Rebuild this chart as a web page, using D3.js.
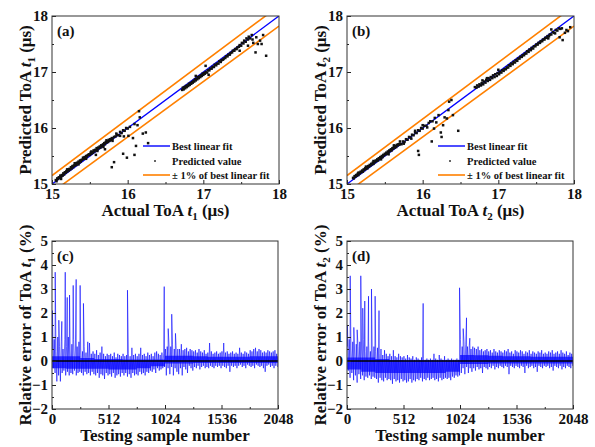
<!DOCTYPE html>
<meta charset="utf-8">
<style>
body { margin: 0; background: #fff; }
svg text { font-family: "Liberation Serif", "Times New Roman", serif; font-weight: bold; fill: #111; }
</style>
<svg width="595" height="447"></svg>
<script src="https://d3js.org/d3.v7.min.js"></script>
<script>

// (a) actual vs predicted ToA t1, pairs [actual, predicted] in µs
var scatterT1 = [
  [15.05,15.07],[15.06,15.05],[15.07,15.10],[15.08,15.09],[15.09,15.12],[15.10,15.11],[15.11,15.15],[15.12,15.13],
  [15.13,15.16],[15.14,15.15],[15.15,15.19],[15.16,15.17],[15.17,15.21],[15.18,15.20],[15.19,15.23],[15.20,15.22],
  [15.21,15.26],[15.22,15.24],[15.23,15.27],[15.24,15.26],[15.25,15.30],[15.26,15.28],[15.27,15.32],[15.28,15.30],
  [15.29,15.33],[15.30,15.33],[15.31,15.36],[15.32,15.34],[15.33,15.38],[15.34,15.37],[15.35,15.40],[15.36,15.38],
  [15.37,15.42],[15.38,15.40],[15.39,15.43],[15.40,15.43],[15.41,15.47],[15.42,15.45],[15.43,15.48],[15.44,15.46],
  [15.45,15.50],[15.46,15.49],[15.47,15.51],[15.48,15.52],[15.49,15.53],[15.50,15.52],[15.51,15.56],[15.52,15.54],
  [15.53,15.57],[15.54,15.56],[15.55,15.60],[15.56,15.58],[15.57,15.61],[15.58,15.60],[15.59,15.64],[15.60,15.62],
  [15.61,15.65],[15.62,15.64],[15.63,15.67],[15.64,15.65],[15.65,15.69],[15.66,15.68],[15.67,15.70],[15.68,15.71],
  [15.69,15.73],[15.70,15.71],[15.71,15.75],[15.72,15.74],[15.73,15.76],[15.74,15.75],[15.75,15.79],[15.76,15.77],
  [15.77,15.80],[15.78,15.79],[15.79,15.82],[15.80,15.81],[15.82,15.84],[15.84,15.85],[15.86,15.88],[15.88,15.87],
  [15.90,15.93],[15.92,15.91],[15.94,15.96],[15.96,15.95],[15.98,16.00],[16.00,15.99],[16.03,16.02],
  [15.12,15.09],[15.20,15.26],[15.30,15.37],[15.35,15.35],[15.45,15.45],[15.52,15.58],[15.60,15.59],[15.68,15.66],
  [15.72,15.78],[15.80,15.77],[15.85,15.90],[15.90,15.86],[15.70,15.62],[15.58,15.52],
  [15.79,15.30],[15.82,15.39],[15.94,15.54],[15.99,15.47],[16.09,15.52],[15.95,15.85],[16.07,15.82],[16.09,16.07],
  [16.13,16.05],[16.16,16.19],[16.15,16.30],[16.20,15.90],[16.24,15.92],[16.27,15.73],[16.11,15.68],[16.01,15.86],
  [16.72,16.68],[16.73,16.72],[16.74,16.69],[16.75,16.73],[16.76,16.71],[16.77,16.75],[16.78,16.73],[16.79,16.76],
  [16.80,16.75],[16.81,16.79],[16.82,16.77],[16.83,16.80],[16.84,16.79],[16.85,16.82],[16.86,16.81],[16.87,16.84],
  [16.88,16.83],[16.89,16.87],[16.90,16.85],[16.91,16.88],[16.92,16.87],[16.93,16.91],[16.94,16.89],[16.95,16.92],
  [16.96,16.91],[16.97,16.94],[16.98,16.93],[16.99,16.97],[17.00,16.95],[17.01,16.98],[17.02,16.97],[17.03,17.00],
  [17.05,16.99],[17.06,17.03],[17.08,17.03],[17.09,17.06],[17.11,17.06],[17.12,17.09],[17.14,17.09],[17.15,17.13],
  [17.17,17.12],[17.18,17.15],[17.20,17.15],[17.21,17.19],[17.23,17.18],[17.24,17.21],[17.26,17.22],[17.27,17.24],
  [17.29,17.25],[17.30,17.28],[17.32,17.28],[17.33,17.31],[17.35,17.31],[17.36,17.34],[17.38,17.35],[17.39,17.38],
  [17.41,17.38],[17.42,17.41],[17.44,17.41],[17.45,17.44],[17.47,17.45],[17.48,17.48],[17.50,17.47],[17.51,17.52],
  [17.53,17.51],[17.54,17.56],[17.56,17.54],[17.57,17.60],[17.59,17.58],[17.60,17.63],[17.62,17.60],[17.64,17.66],
  [17.69,17.35],[17.83,17.29],[17.72,17.50],[17.75,17.56],[17.03,17.11],[17.07,16.95],[17.59,17.47],[17.48,17.38],
  [17.79,17.66],[17.66,17.52],[17.70,17.62],[17.77,17.50],[16.90,16.93],[17.65,17.58]
];

// (b) actual vs predicted ToA t2
var scatterT2 = [
  [15.08,15.11],[15.09,15.10],[15.10,15.14],[15.11,15.13],[15.12,15.16],[15.13,15.15],[15.14,15.18],[15.15,15.16],
  [15.16,15.20],[15.17,15.19],[15.18,15.22],[15.19,15.21],[15.20,15.24],[15.21,15.22],[15.22,15.26],[15.23,15.25],
  [15.24,15.28],[15.25,15.27],[15.26,15.30],[15.27,15.28],[15.28,15.32],[15.29,15.31],[15.30,15.34],[15.31,15.33],
  [15.32,15.36],[15.33,15.35],[15.34,15.38],[15.35,15.36],[15.36,15.40],[15.37,15.39],[15.38,15.42],[15.39,15.41],
  [15.40,15.44],[15.41,15.42],[15.42,15.46],[15.43,15.45],[15.44,15.48],[15.45,15.47],[15.46,15.50],[15.47,15.48],
  [15.48,15.52],[15.49,15.51],[15.50,15.54],[15.51,15.53],[15.52,15.56],[15.53,15.54],[15.54,15.58],[15.55,15.57],
  [15.56,15.60],[15.57,15.59],[15.58,15.62],[15.59,15.60],[15.60,15.64],[15.61,15.63],[15.62,15.66],[15.63,15.65],
  [15.64,15.68],[15.65,15.66],[15.66,15.70],[15.67,15.69],[15.68,15.71],[15.69,15.70],[15.70,15.72],[15.72,15.71],
  [15.74,15.76],[15.76,15.75],[15.78,15.80],[15.80,15.79],[15.82,15.84],[15.84,15.83],[15.86,15.88],[15.88,15.87],
  [15.90,15.92],[15.92,15.91],[15.94,15.96],[15.96,15.95],[15.98,16.00],[16.00,15.99],[16.02,16.04],[16.05,16.04],
  [16.08,16.09],[16.10,16.12],[16.13,16.12],[16.16,16.18],
  [15.15,15.20],[15.25,15.31],[15.35,15.41],[15.45,15.44],[15.55,15.53],[15.62,15.69],[15.70,15.76],[15.75,15.72],
  [15.85,15.81],[15.90,15.95],[16.00,16.05],[16.06,16.01],
  [15.94,15.59],[15.95,15.52],[16.12,15.76],[16.24,15.92],[16.25,15.84],[16.27,16.05],[16.34,16.32],[16.35,16.47],
  [16.40,16.23],[16.47,15.95],[16.38,16.50],[16.32,16.17],[16.21,16.23],[16.18,16.10],[16.29,16.19],[16.15,15.99],
  [16.69,16.73],[16.71,16.72],[16.72,16.76],[16.74,16.74],[16.75,16.78],[16.77,16.76],[16.78,16.80],[16.80,16.78],
  [16.81,16.83],[16.83,16.81],[16.84,16.86],[16.86,16.84],[16.87,16.89],[16.89,16.86],[16.90,16.91],[16.92,16.89],
  [16.93,16.94],[16.95,16.91],[16.96,16.96],[16.98,16.93],[16.99,16.98],[17.01,16.96],[17.02,17.00],[17.04,16.99],
  [17.05,17.03],[17.07,17.02],[17.08,17.05],[17.10,17.05],[17.11,17.08],[17.13,17.08],[17.14,17.12],[17.16,17.11],
  [17.17,17.15],[17.19,17.14],[17.20,17.18],[17.22,17.17],[17.23,17.21],[17.25,17.20],[17.26,17.24],[17.28,17.24],
  [17.29,17.27],[17.31,17.27],[17.32,17.30],[17.34,17.30],[17.35,17.33],[17.37,17.33],[17.38,17.37],[17.40,17.36],
  [17.41,17.40],[17.43,17.39],[17.44,17.43],[17.46,17.42],[17.47,17.46],[17.49,17.46],[17.50,17.49],[17.52,17.49],
  [17.53,17.52],[17.55,17.52],[17.56,17.55],[17.58,17.55],[17.59,17.58],[17.61,17.58],[17.62,17.61],[17.64,17.61],
  [17.65,17.64],[17.67,17.64],[17.68,17.67],[17.70,17.67],[17.72,17.71],[17.74,17.70],[17.76,17.75],[17.78,17.74],
  [17.80,17.78],[17.82,17.77],[17.84,17.78],
  [17.85,17.57],[17.75,17.69],[17.90,17.75],[17.66,17.60],[16.85,16.89],[17.95,17.80],[17.88,17.70],[17.81,17.62],
  [16.79,16.85],[17.00,17.04],[17.70,17.76],[17.92,17.73]
];

// (c)/(d) relative error (%): envelope per block of 16 samples, plus isolated spikes
var errHi1 = [
  0.5,0.9,0.4,1.0,0.6,0.8,0.5,0.9, 0.6,1.0,0.5,0.7,0.9,0.5,0.6,0.8,
  0.5,0.4,0.6,0.35,0.8,0.75,0.3,0.4, 0.3,0.45,0.25,0.35,0.6,0.3,0.2,0.3,
  0.25,0.3,0.2,0.35,0.15,0.3,0.25,0.2, 0.3,0.2,0.25,0.3,0.2,0.55,0.25,0.3,
  0.2,0.3,0.55,0.25,0.3,0.2,0.35,0.25, 0.3,0.2,0.35,0.4,0.3,0.25,0.35,0.3,
  0.5,0.6,0.7,0.6,0.7,0.5,0.65,0.5, 0.5,0.7,0.45,0.5,0.55,0.4,0.5,0.45,
  0.4,0.45,0.35,0.5,0.4,0.35,0.45,0.3, 0.35,0.75,0.4,0.3,0.35,0.4,0.3,0.35,
  0.4,0.75,0.35,0.4,0.3,0.35,0.4,0.3, 0.35,0.3,0.55,0.35,0.3,0.4,0.35,0.3,
  0.45,0.4,0.5,0.55,0.4,0.5,0.45,0.35, 0.4,0.35,0.45,0.4,0.35,0.4,0.45,0.3
];
var errLo1 = [
  -0.3,-0.5,-0.85,-0.6,-0.85,-0.5,-0.4,-0.6, -0.45,-0.6,-0.5,-0.55,-0.4,-0.6,-0.5,-0.45,
  -0.5,-0.6,-0.45,-0.55,-0.5,-0.6,-0.45,-0.55, -0.6,-0.5,-0.7,-0.55,-0.6,-0.75,-0.5,-0.6,
  -0.55,-0.65,-0.5,-0.7,-0.6,-0.55,-0.65,-0.5, -0.6,-0.5,-0.65,-0.55,-0.7,-0.5,-0.6,-0.55,
  -0.6,-0.45,-0.55,-0.5,-0.6,-0.45,-0.5,-0.4, -0.45,-0.35,-0.5,-0.3,-0.4,-0.35,-0.3,-0.25,
  -0.6,-0.3,-0.55,-0.25,-0.6,-0.3,-0.45,-0.55, -0.3,-0.6,-0.25,-0.35,-0.5,-0.2,-0.3,-0.4,
  -0.25,-0.3,-0.2,-0.35,-0.25,-0.2,-0.3,-0.25, -0.3,-0.2,-0.25,-0.3,-0.2,-0.25,-0.2,-0.3,
  -0.2,-0.25,-0.3,-0.2,-0.45,-0.2,-0.25,-0.2, -0.3,-0.2,-0.15,-0.25,-0.2,-0.3,-0.15,-0.2,
  -0.25,-0.2,-0.3,-0.15,-0.2,-0.25,-0.2,-0.3, -0.45,-0.2,-0.15,-0.25,-0.2,-0.3,-0.2,-0.25
];
var spikeIdx1 = [4, 29, 62, 89, 120, 138, 159, 192, 219, 255, 285, 684, 1017, 1053, 1085, 1119];
var spikeVal1 = [2.1, 3.7, 1.7, 1.65, 3.7, 2.65, 2.75, 3.15, 3.4, 3.15, 2.4, 2.95, 3.1, 1.35, 1.95, 1.15];
// dense core of the trace, every 128 samples (0 ... 2048)
var coreHi1 = [0.2, 0.2, 0.12, 0.08, 0.08, 0.06, 0.06, 0.06, 0.22, 0.22, 0.2, 0.18, 0.18, 0.18, 0.2, 0.2, 0.2];
var coreLo1 = [-0.3, -0.32, -0.32, -0.32, -0.35, -0.35, -0.3, -0.22, -0.1, -0.1, -0.08, -0.08, -0.08, -0.08, -0.08, -0.08, -0.08];

var errHi2 = [
  0.6,0.9,0.5,0.8,0.5,0.7,0.6,0.8, 0.5,0.9,0.4,0.6,0.8,0.4,0.5,0.6,
  0.4,0.55,0.3,0.5,0.25,0.45,0.3,0.2, 0.3,0.2,0.45,0.2,0.15,0.3,0.2,0.15,
  0.2,0.1,0.25,0.15,0.1,0.2,0.05,0.15, 0.1,0.05,0.15,0.1,0.05,0.1,0.05,0.1,
  0.05,0.3,0.1,0.05,0.25,0.1,0.05,0.2, 0.05,0.1,0.05,0.1,0.05,0.05,0.1,0.05,
  0.9,0.6,0.8,0.7,0.6,0.65,0.5,0.6, 0.55,0.5,0.6,0.45,0.5,0.4,0.45,0.5,
  0.4,0.45,0.35,0.5,0.4,0.35,0.45,0.4, 0.35,0.45,0.4,0.5,0.35,0.4,0.3,0.45,
  0.4,0.35,0.45,0.4,0.3,0.4,0.35,0.45, 0.3,0.4,0.35,0.3,0.4,0.35,0.45,0.3,
  0.35,0.3,0.4,0.35,0.45,0.3,0.35,0.4, 0.3,0.45,0.35,0.3,0.4,0.25,0.35,0.3
];
var errLo2 = [
  -0.4,-0.7,-0.5,-0.8,-0.6,-0.9,-0.55,-0.75, -0.6,-0.8,-0.65,-0.7,-0.6,-0.75,-0.65,-0.7,
  -0.75,-0.9,-0.7,-0.8,-0.85,-0.7,-0.8,-0.75, -0.8,-0.95,-0.75,-0.85,-0.8,-0.9,-0.75,-0.85,
  -0.8,-0.9,-0.85,-0.75,-0.9,-0.8,-0.85,-0.75, -0.8,-0.7,-0.85,-0.75,-0.8,-0.7,-0.8,-0.75,
  -0.7,-0.8,-0.75,-0.85,-0.7,-0.8,-0.75,-0.7, -0.75,-0.7,-0.8,-0.65,-0.7,-0.6,-0.65,-0.6,
  -0.5,-0.3,-0.55,-0.25,-0.5,-0.3,-0.45,-0.3, -0.4,-0.25,-0.35,-0.3,-0.5,-0.25,-0.3,-0.35,
  -0.25,-0.3,-0.2,-0.35,-0.25,-0.3,-0.2,-0.25, -0.3,-0.2,-0.25,-0.55,-0.2,-0.25,-0.3,-0.2,
  -0.25,-0.3,-0.2,-0.25,-0.5,-0.2,-0.3,-0.25, -0.2,-0.3,-0.25,-0.45,-0.2,-0.25,-0.3,-0.2,
  -0.25,-0.2,-0.3,-0.25,-0.4,-0.2,-0.25,-0.3, -0.2,-0.35,-0.25,-0.3,-0.2,-0.25,-0.3,-0.2
];
var spikeIdx2 = [4, 29, 62, 92, 125, 143, 161, 195, 222, 255, 290, 690, 1020, 1053, 1083, 1113];
var spikeVal2 = [1.5, 3.55, 1.4, 1.3, 3.55, 2.2, 2.5, 2.7, 3.0, 2.7, 2.1, 2.4, 3.05, 1.35, 1.8, 0.95];
var coreHi2 = [0.15, 0.15, 0.08, 0.04, 0.03, 0.03, 0.03, 0.03, 0.25, 0.24, 0.22, 0.2, 0.2, 0.18, 0.18, 0.18, 0.18];
var coreLo2 = [-0.35, -0.45, -0.5, -0.5, -0.5, -0.5, -0.5, -0.45, -0.12, -0.12, -0.1, -0.1, -0.1, -0.1, -0.1, -0.1, -0.1];

var blockSize = 16, coreStep = 128;
var toaTicks = [15, 16, 17, 18], toaMinor = [15.5, 16.5, 17.5];
var sampleTicks = [0, 512, 1024, 1536, 2048], sampleMinor = [256, 768, 1280, 1792];
var errTicks = [-2, -1, 0, 1, 2, 3, 4, 5], errMinor = [-1.5, -0.5, 0.5, 1.5, 2.5, 3.5, 4.5];
var legendLabels = ["Best linear fit", "Predicted value", "\u00b1 1% of best linear fit"];

var svg = d3.select("svg"),
    serif = '"Liberation Serif", "Times New Roman", serif',
    blue = "#0000ff",
    orange = "#ff8000",
    pw = 227, ph = 168;

function styleAxis(g) {
  g.attr("font-family", serif).attr("font-size", 15).attr("font-weight", "bold").attr("color", "#222");
  g.select(".domain").remove();
}

function addTitle(sel, pre, sub, post) {
  sel.append("tspan").text(pre);
  sel.append("tspan").attr("font-style", "italic").text("t");
  sel.append("tspan").attr("font-size", 11).attr("dy", 4).text(sub);
  sel.append("tspan").attr("dy", -4).text(post);
}

function axes(g, x, y, xt, xm, yt, ym) {
  g.append("g").attr("transform", "translate(0," + ph + ")")
      .call(d3.axisBottom(x).tickValues(xt).tickSize(-4).tickPadding(4).tickFormat(d3.format("d")))
      .call(styleAxis);
  g.append("g").attr("transform", "translate(0," + ph + ")")
      .call(d3.axisBottom(x).tickValues(xm).tickSize(-2).tickFormat(""))
      .call(styleAxis);
  g.append("g")
      .call(d3.axisLeft(y).tickValues(yt).tickSize(-4).tickPadding(4).tickFormat(d3.format("d")))
      .call(styleAxis);
  g.append("g")
      .call(d3.axisLeft(y).tickValues(ym).tickSize(-2).tickFormat(""))
      .call(styleAxis);
  g.append("rect").attr("width", x.range()[1]).attr("height", ph)
      .attr("fill", "none").attr("stroke", "#333").attr("stroke-width", 1);
}

function scatterPanel(id, x0, pts, letter, sub) {
  var g = svg.append("g").attr("transform", "translate(" + x0 + ",16)");
  var x = d3.scaleLinear().domain([15, 18]).range([0, pw]),
      y = d3.scaleLinear().domain([15, 18]).range([ph, 0]);

  g.append("clipPath").attr("id", id).append("rect").attr("width", pw).attr("height", ph);
  var plot = g.append("g").attr("clip-path", "url(#" + id + ")");
  var line = d3.line().x(function(d) { return x(d[0]); }).y(function(d) { return y(d[1]); });

  [1.01, 0.99].forEach(function(k) {
    plot.append("path").attr("d", line([[15, 15 * k], [18, 18 * k]]))
        .attr("stroke", orange).attr("stroke-width", 1.6).attr("fill", "none");
  });
  plot.append("path").attr("d", line([[15, 15], [18, 18]]))
      .attr("stroke", blue).attr("stroke-width", 1.4).attr("fill", "none");

  plot.selectAll("rect.pt").data(pts).enter().append("rect")
      .attr("class", "pt")
      .attr("x", function(d) { return x(d[0]) - 1.25; })
      .attr("y", function(d) { return y(d[1]) - 1.25; })
      .attr("width", 2.5).attr("height", 2.5)
      .attr("fill", "#111");

  axes(g, x, y, toaTicks, toaMinor, toaTicks, toaMinor);

  g.append("text").attr("x", 5).attr("y", 20).attr("font-size", 15).text("(" + letter + ")");

  // legend
  var lg = g.append("g").attr("font-size", 10.5);
  var rows = [130, 145, 159];
  lg.append("line").attr("x1", 91).attr("x2", 118).attr("y1", rows[0]).attr("y2", rows[0])
      .attr("stroke", blue).attr("stroke-width", 1.4);
  lg.append("rect").attr("x", 102.2).attr("y", rows[1] - 0.8).attr("width", 1.6).attr("height", 1.6).attr("fill", "#111");
  lg.append("line").attr("x1", 91).attr("x2", 118).attr("y1", rows[2]).attr("y2", rows[2])
      .attr("stroke", orange).attr("stroke-width", 1.6);
  legendLabels.forEach(function(t, i) {
    lg.append("text").attr("x", 120).attr("y", rows[i] + 3.6).text(t);
  });

  addTitle(svg.append("text").attr("x", x0 + pw / 2).attr("y", 216)
      .attr("text-anchor", "middle").attr("font-size", 17), "Actual ToA ", sub, " (\u03bcs)");
  addTitle(svg.append("text").attr("transform", "translate(" + (x0 - 21) + ",100) rotate(-90)")
      .attr("text-anchor", "middle").attr("font-size", 17), "Predicted ToA ", sub, " (\u03bcs)");
}

function errorPanel(id, x0, hi, lo, sIdx, sVal, cHi, cLo, letter, sub) {
  var w = 226;
  var g = svg.append("g").attr("transform", "translate(" + x0 + ",241)");
  var x = d3.scaleLinear().domain([0, 2048]).range([0, w]),
      y = d3.scaleLinear().domain([-2, 5]).range([ph, 0]);

  var pts = [];
  hi.forEach(function(v, i) {
    pts.push([i * blockSize + 4, v]);
    pts.push([i * blockSize + 12, lo[i]]);
  });
  sIdx.forEach(function(s, i) { pts.push([s, sVal[i]]); });
  pts.sort(function(a, b) { return a[0] - b[0]; });

  g.append("clipPath").attr("id", id).append("rect").attr("width", w).attr("height", ph);
  var plot = g.append("g").attr("clip-path", "url(#" + id + ")");

  plot.append("path")
      .attr("d", d3.line().x(function(d) { return x(d[0]); }).y(function(d) { return y(d[1]); })(pts))
      .attr("fill", "none").attr("stroke", blue).attr("stroke-width", 0.9).attr("stroke-opacity", 0.65);

  plot.append("path")
      .attr("d", d3.area().curve(d3.curveStepAfter)
        .x(function(d, i) { return x(i * coreStep); })
        .y0(function(d, i) { return y(cLo[i]); })
        .y1(function(d) { return y(d); })(cHi))
      .attr("fill", blue).attr("fill-opacity", 0.7);

  plot.append("line").attr("x1", 0).attr("x2", w).attr("y1", y(0)).attr("y2", y(0))
      .attr("stroke", "#000").attr("stroke-width", 1.4);

  axes(g, x, y, sampleTicks, sampleMinor, errTicks, errMinor);

  g.append("text").attr("x", 5).attr("y", 20).attr("font-size", 15).text("(" + letter + ")");

  svg.append("text").attr("x", x0 + w / 2).attr("y", 441)
      .attr("text-anchor", "middle").attr("font-size", 17).text("Testing sample number");
  addTitle(svg.append("text").attr("transform", "translate(" + (x0 - 21) + ",325) rotate(-90)")
      .attr("text-anchor", "middle").attr("font-size", 17), "Relative error of ToA ", sub, " (%)");
}

scatterPanel("clipA", 52, scatterT1, "a", "1");
scatterPanel("clipB", 347, scatterT2, "b", "2");
errorPanel("clipC", 52, errHi1, errLo1, spikeIdx1, spikeVal1, coreHi1, coreLo1, "c", "1");
errorPanel("clipD", 347, errHi2, errLo2, spikeIdx2, spikeVal2, coreHi2, coreLo2, "d", "2");

</script>
